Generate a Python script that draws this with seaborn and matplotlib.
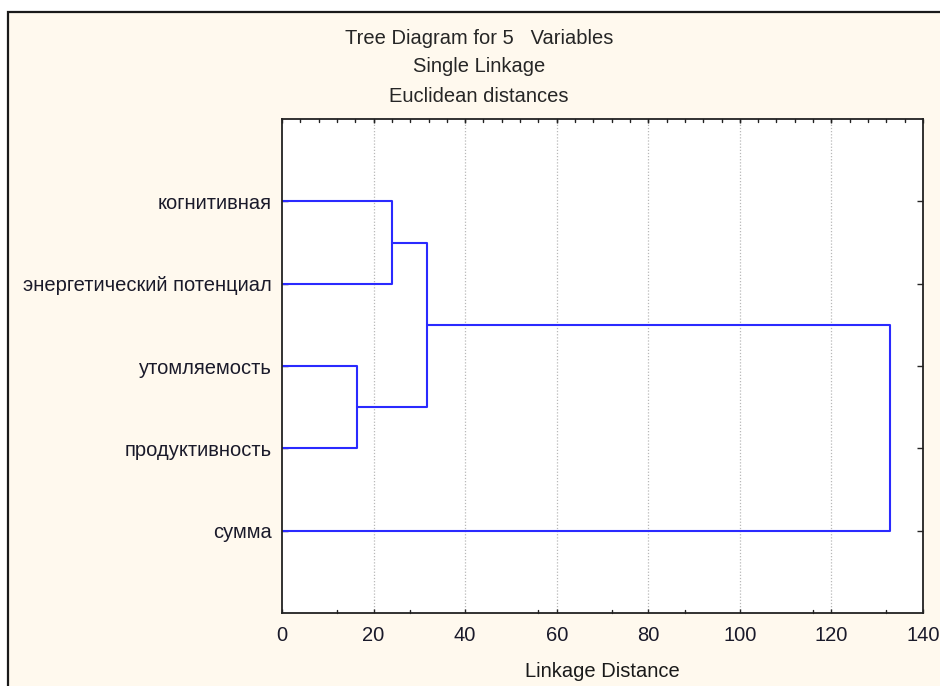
import matplotlib
matplotlib.use("Agg")
import matplotlib.pyplot as plt
from matplotlib.patches import Rectangle
import seaborn as sns
import pandas as pd

# ---- data ----
labels = ["когнитивная", "энергетический потенциал", "утомляемость",
          "продуктивность", "сумма"]
merge_left = [2, 0, 5, 7]      # scipy-style node ids (leaves 0..4, clusters 5..)
merge_right = [3, 1, 6, 4]
merge_dist = [16.4, 24.0, 31.7, 132.8]
x_major = [0, 20, 40, 60, 80, 100, 120, 140]
x_minor_top = list(range(4, 140, 4))
x_minor_bottom = [12, 28, 56, 72, 88, 116, 132]

# ---- build dendrogram segments ----
n = len(labels)
pos = {i: i + 1 for i in range(n)}
height = {i: 0.0 for i in range(n)}
rows = []
for k, (a, b, d) in enumerate(zip(merge_left, merge_right, merge_dist)):
    node = n + k
    pts = [(height[a], pos[a]), (d, pos[a]), (d, pos[b]), (height[b], pos[b])]
    for j, (x, y) in enumerate(pts):
        rows.append({"dist": x, "leaf": y, "seg": k, "order": j})
    pos[node] = (pos[a] + pos[b]) / 2
    height[node] = d
df = pd.DataFrame(rows)

sns.set_style("white")
plt.rcParams["font.family"] = ["Liberation Sans", "DejaVu Sans"]

W, H = 940, 686
FS = 14.5
fig = plt.figure(figsize=(W / 100, H / 100), dpi=100)
fig.patch.set_facecolor("white")
fig.patches.append(Rectangle((8 / W, -0.05), 1.2, 1.05 - 12 / H, transform=fig.transFigure,
                             facecolor="#FFF9EE", edgecolor="#1a1a1a", linewidth=1.6,
                             zorder=-5))

ax = fig.add_axes([282 / W, 1 - 613 / H, (923 - 282) / W, (613 - 119) / H])
ax.set_facecolor("white")

sns.lineplot(data=df, x="dist", y="leaf", units="seg", estimator=None, sort=False,
             color="#2a2aff", linewidth=1.5, ax=ax, legend=False)

ax.set_xlim(0, 140)
ax.set_ylim(6, 0)
ax.set_xticks(x_major)
ax.set_xticklabels([str(v) for v in x_major], fontsize=FS, color="#1a1a2a")
ax.set_yticks(range(1, n + 1))
ax.set_yticklabels(labels, fontsize=FS, color="#1a1a2a")
ax.tick_params(axis="x", direction="in", length=3, width=1, pad=9.5, top=True, bottom=True)
ax.tick_params(axis="y", direction="in", length=4, width=1, pad=7.5, left=True, right=True)

# minor ticks on top and bottom
for xv in x_minor_top:
    ax.plot([xv, xv], [0, 0.04], color="#222222", lw=1, clip_on=False)
for xv in x_minor_bottom:
    ax.plot([xv, xv], [6, 5.96], color="#222222", lw=1, clip_on=False)

for xv in x_major[1:-1]:
    ax.axvline(xv, color="#b8b8b8", lw=0.9, ls=(0, (1, 1.5)), zorder=0)

for s in ax.spines.values():
    s.set_color("#222222")
    s.set_linewidth(1.3)

ax.set_xlabel("Linkage Distance", fontsize=FS, labelpad=12, color="#1a1a1a")
ax.set_ylabel("")

cx = 479 / W
fig.text(cx, 1 - 39 / H, "Tree Diagram for 5   Variables", ha="center", va="center", fontsize=FS)
fig.text(cx, 1 - 67 / H, "Single Linkage", ha="center", va="center", fontsize=FS)
fig.text(cx, 1 - 97 / H, "Euclidean distances", ha="center", va="center", fontsize=FS)

fig.savefig("out.png", dpi=100)
